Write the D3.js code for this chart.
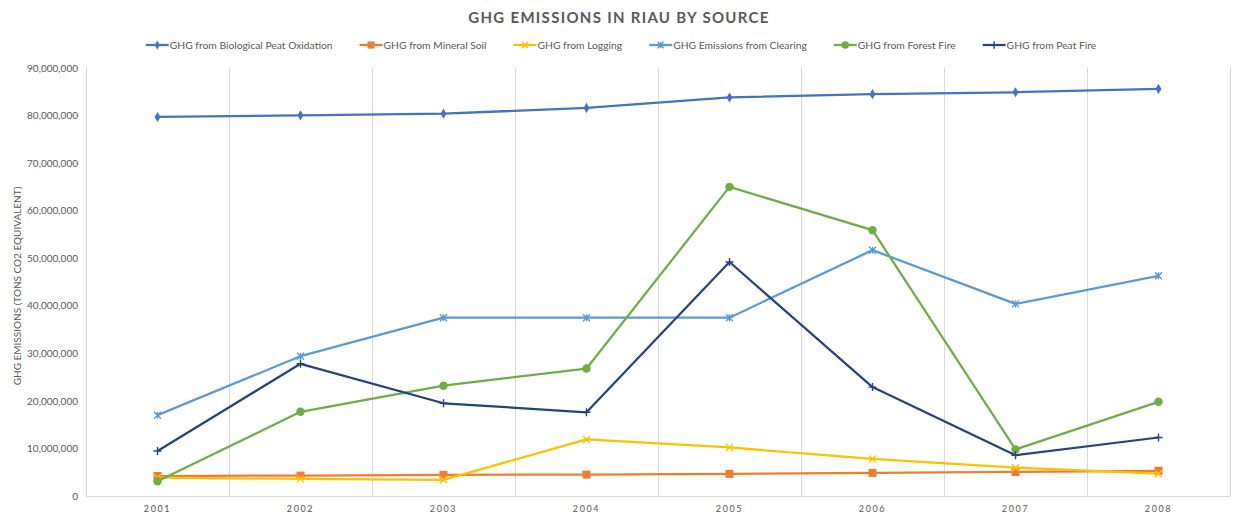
<!DOCTYPE html>
<html>
<head>
<meta charset="utf-8">
<script src="https://cdn.jsdelivr.net/npm/d3@7"></script>
<style>
  body { margin: 0; background: #fff; }
  svg text { font-family: Lato, "Open Sans", sans-serif; fill: #595959; }
</style>
</head>
<body>
<div id="chart"></div>
<script>
// values in tons CO2 equivalent
const YEARS = ["2001", "2002", "2003", "2004", "2005", "2006", "2007", "2008"];
const BIO_PEAT = [79700000, 80050000, 80400000, 81600000, 83800000, 84500000, 84900000, 85600000];
const MINERAL_SOIL = [4200000, 4300000, 4450000, 4500000, 4650000, 4850000, 5050000, 5300000];
const LOGGING = [3850000, 3600000, 3400000, 11900000, 10200000, 7800000, 5950000, 4700000];
const CLEARING = [17000000, 29400000, 37500000, 37500000, 37500000, 51700000, 40400000, 46300000];
const FOREST_FIRE = [3100000, 17700000, 23200000, 26800000, 65000000, 55900000, 9800000, 19800000];
const PEAT_FIRE = [9460000, 27800000, 19500000, 17600000, 49200000, 22900000, 8560000, 12300000];
const Y_TICKS = [0, 10000000, 20000000, 30000000, 40000000, 50000000, 60000000, 70000000, 80000000, 90000000];

const SERIES = [
  { label: "GHG from Biological Peat Oxidation", values: BIO_PEAT, color: "#4472C4", marker: "diamond" },
  { label: "GHG from Mineral Soil", values: MINERAL_SOIL, color: "#ED7D31", marker: "square" },
  { label: "GHG from Logging", values: LOGGING, color: "#FFC000", marker: "times" },
  { label: "GHG Emissions from Clearing", values: CLEARING, color: "#5B9BD5", marker: "asterisk" },
  { label: "GHG from Forest Fire", values: FOREST_FIRE, color: "#70AD47", marker: "circle" },
  { label: "GHG from Peat Fire", values: PEAT_FIRE, color: "#264478", marker: "plus" },
];

const width = 1233;
const height = 515;
const margin = { top: 68, right: 3, bottom: 19, left: 86 };

const svg = d3.select("#chart")
  .append("svg")
  .attr("width", width)
  .attr("height", height);

const x = d3.scaleBand()
  .domain(YEARS)
  .range([margin.left, width - margin.right]);

const y = d3.scaleLinear()
  .domain([0, 90000000])
  .range([height - margin.bottom, margin.top]);

const cx = (d) => x(d) + x.bandwidth() / 2;

// marker drawing: filled ones use d3 symbols, stroke ones are paths
function addMarker(g, kind, color, px, py, scale = 1) {
  if (kind === "diamond") {
    g.append("path").attr("d", d3.symbol(d3.symbolDiamond, 30 * scale)())
      .attr("transform", `translate(${px},${py})`).attr("fill", color);
  } else if (kind === "square") {
    g.append("path").attr("d", d3.symbol(d3.symbolSquare, 64 * scale)())
      .attr("transform", `translate(${px},${py})`).attr("fill", color);
  } else if (kind === "circle") {
    g.append("path").attr("d", d3.symbol(d3.symbolCircle, 56 * scale)())
      .attr("transform", `translate(${px},${py})`).attr("fill", color);
  } else {
    const r = 3.5 * Math.sqrt(scale);
    let d = "";
    if (kind === "times" || kind === "asterisk") {
      d += `M${-r},${-r}L${r},${r}M${-r},${r}L${r},${-r}`;
    }
    if (kind === "asterisk") d += `M0,${-r}L0,${r}`;
    if (kind === "plus") d += `M${-r - 0.5},0L${r + 0.5},0M0,${-r - 0.5}L0,${r + 0.5}`;
    g.append("path").attr("d", d)
      .attr("transform", `translate(${px},${py})`)
      .attr("stroke", color).attr("stroke-width", 1.4).attr("fill", "none");
  }
}

// vertical gridlines at category boundaries
const bounds = YEARS.map((d) => x(d)).concat([x(YEARS[YEARS.length - 1]) + x.bandwidth()]);
svg.append("g")
  .selectAll("line")
  .data(bounds)
  .join("line")
  .attr("x1", (d) => Math.round(d) + 0.5)
  .attr("x2", (d) => Math.round(d) + 0.5)
  .attr("y1", y(90000000))
  .attr("y2", y(0))
  .attr("stroke", "#d9d9d9")
  .attr("stroke-width", 1);

// y axis
const yAxis = svg.append("g")
  .attr("transform", `translate(${margin.left},0)`)
  .call(d3.axisLeft(y).tickValues(Y_TICKS).tickFormat(d3.format(",")).tickSize(0).tickPadding(8));
yAxis.select(".domain").remove();
yAxis.selectAll("text").attr("font-size", 10).attr("font-family", "Lato, sans-serif").attr("fill", "#595959");

// x axis
const xAxis = svg.append("g")
  .attr("transform", `translate(0,${y(0)})`)
  .call(d3.axisBottom(x).tickSize(0).tickPadding(10));
xAxis.select(".domain").attr("stroke", "#d9d9d9");
xAxis.selectAll("text")
  .attr("font-size", 9)
  .attr("font-family", "Lato, sans-serif")
  .attr("letter-spacing", 1.6)
  .attr("fill", "#595959");

// y axis title
svg.append("text")
  .attr("transform", `translate(21,${(y(0) + y(90000000)) / 2 + 4}) rotate(-90)`)
  .attr("text-anchor", "middle")
  .attr("font-size", 10)
  .text("GHG EMISSIONS (TONS CO2 EQUIVALENT)");

// title
svg.append("text")
  .attr("x", 619)
  .attr("y", 23)
  .attr("text-anchor", "middle")
  .attr("font-size", 15)
  .attr("font-weight", "bold")
  .attr("letter-spacing", 1.3)
  .text("GHG EMISSIONS  IN RIAU BY SOURCE");

// lines and markers
const line = d3.line()
  .x((d, i) => cx(YEARS[i]))
  .y((d) => y(d));

SERIES.forEach((s) => {
  const g = svg.append("g");
  g.append("path")
    .datum(s.values)
    .attr("d", line)
    .attr("fill", "none")
    .attr("stroke", s.color)
    .attr("stroke-width", 2.25)
    .attr("stroke-linejoin", "round");
  s.values.forEach((v, i) => addMarker(g, s.marker, s.color, cx(YEARS[i]), y(v)));
});

// legend
const legend = svg.append("g");
let lx = 0;
SERIES.forEach((s) => {
  const item = legend.append("g").attr("transform", `translate(${lx},0)`);
  item.append("line")
    .attr("x1", 0).attr("x2", 23).attr("y1", 0).attr("y2", 0)
    .attr("stroke", s.color).attr("stroke-width", 2.25);
  addMarker(item, s.marker, s.color, 11.5, 0, 0.8);
  const t = item.append("text")
    .attr("x", 24)
    .attr("y", 3.6)
    .attr("font-size", 10.3)
    .text(s.label);
  lx += 24 + t.node().getComputedTextLength() + 27;
});
const legendWidth = lx - 27;
legend.attr("transform", `translate(${621 - legendWidth / 2},45)`);
</script>
</body>
</html>
